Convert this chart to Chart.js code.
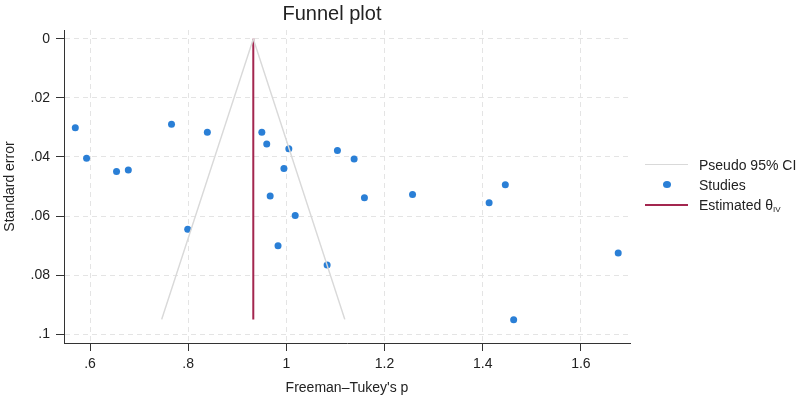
<!DOCTYPE html>
<html>
<head>
<meta charset="utf-8">
<title>Funnel plot</title>
<script src="https://cdn.jsdelivr.net/npm/chart.js@4/dist/chart.umd.min.js"></script>
<style>
  body { margin: 0; background: #fff; }
  #wrap { position: relative; width: 800px; height: 400px; }
  #legend { position: absolute; left: 645px; top: 155px; font-family: "Liberation Sans", Arial, sans-serif; font-size: 14px; color: #222; }
  #legend .row { position: relative; height: 20px; line-height: 20px; white-space: nowrap; }
  #legend .key { position: absolute; left: 0; top: 0; width: 43px; height: 20px; }
  #legend .txt { position: absolute; left: 54px; top: 0; }
  #legend .line { position: absolute; left: 0; width: 43px; top: 9px; height: 0; }
  #legend .dot { position: absolute; left: 18px; top: 6px; width: 8px; height: 7px; border-radius: 50%; background: #2a7fd6; }
  #legend sub { font-size: 8px; vertical-align: -2px; }
</style>
</head>
<body>
<div id="wrap">
  <canvas id="myChart" width="800" height="400"></canvas>
  <div id="legend">
    <div class="row"><span class="key"><span class="line" style="border-top: 1.5px solid #d9d9d9"></span></span><span class="txt">Pseudo 95% CI</span></div>
    <div class="row"><span class="key"><span class="dot"></span></span><span class="txt">Studies</span></div>
    <div class="row"><span class="key"><span class="line" style="border-top: 2px solid #a3264f"></span></span><span class="txt">Estimated θ<sub>IV</sub></span></div>
  </div>
</div>
<script>
// study estimates (Freeman-Tukey p) and their standard errors
var studyP = [0.570, 0.593, 0.654, 0.678, 0.766, 0.839, 0.950, 0.960, 1.005, 0.995, 1.104, 1.138,
              0.967, 1.159, 1.257, 1.446, 1.413, 1.018, 0.799, 0.983, 1.083, 1.676, 1.463];
var studySE = [0.0301, 0.0404, 0.0449, 0.0444, 0.0289, 0.0316, 0.0316, 0.0356, 0.0372, 0.0439, 0.0378, 0.0407,
               0.0532, 0.0538, 0.0527, 0.0494, 0.0555, 0.0598, 0.0645, 0.0701, 0.0766, 0.0725, 0.0951];

// pseudo 95% CI funnel and the pooled estimate
var ciLeftP = [0.9326, 0.746];
var ciRightP = [0.9326, 1.119];
var ciSE = [0, 0.095];
var thetaP = [0.9326, 0.9326];
var thetaSE = [0, 0.095];

var xTicks = [0.6, 0.8, 1, 1.2, 1.4, 1.6];
var yTicks = [0, 0.02, 0.04, 0.06, 0.08, 0.1];

function pairs(xs, ys) {
    var out = [];
    for (var i = 0; i < xs.length; i++) {
        out.push({x: xs[i], y: ys[i]});
    }
    return out;
}

function stataLabel(v) {
    var s = String(Math.round(v * 1000) / 1000);
    return s.replace(/^0\./, '.');
}

Chart.defaults.font.family = '"Liberation Sans", Arial, sans-serif';
Chart.defaults.font.size = 14;
Chart.defaults.color = '#222';

var titlePlugin = {
    id: 'plotTitle',
    afterDraw: function (chart) {
        var ctx = chart.ctx;
        ctx.save();
        ctx.font = '20px "Liberation Sans", Arial, sans-serif';
        ctx.fillStyle = '#222';
        ctx.textAlign = 'center';
        ctx.textBaseline = 'middle';
        ctx.fillText('Funnel plot', 332, 14);
        ctx.restore();
    }
};

var gridOpts = {
    color: '#e4e4e4',
    tickColor: '#333',
    tickBorderDash: [],
    tickLength: 8
};
var borderOpts = {
    display: true,
    color: '#333',
    width: 1,
    dash: [5, 4]
};

var chart = new Chart(document.getElementById('myChart'), {
    type: 'scatter',
    data: {
        datasets: [
            {
                label: 'Pseudo 95% CI',
                type: 'line',
                data: pairs(ciLeftP, ciSE),
                borderColor: '#d9d9d9',
                borderWidth: 1.5,
                pointRadius: 0,
                fill: false
            },
            {
                label: 'Pseudo 95% CI right',
                type: 'line',
                data: pairs(ciRightP, ciSE),
                borderColor: '#d9d9d9',
                borderWidth: 1.5,
                pointRadius: 0,
                fill: false
            },
            {
                label: 'Estimated θIV',
                type: 'line',
                data: pairs(thetaP, thetaSE),
                borderColor: '#a3264f',
                borderWidth: 2,
                pointRadius: 0,
                fill: false
            },
            {
                label: 'Studies',
                data: pairs(studyP, studySE),
                backgroundColor: '#2a7fd6',
                borderWidth: 0,
                pointRadius: 3.5,
                pointHoverRadius: 3.5
            }
        ]
    },
    options: {
        responsive: false,
        animation: false,
        events: [],
        layout: { padding: { top: 30, right: 170, left: 0, bottom: 0 } },
        plugins: {
            legend: { display: false },
            tooltip: { enabled: false }
        },
        scales: {
            x: {
                type: 'linear',
                min: 0.547,
                max: 1.70,
                grid: gridOpts,
                border: borderOpts,
                afterBuildTicks: function (scale) {
                    scale.ticks = xTicks.map(function (v) { return {value: v}; });
                },
                afterFit: function (scale) { scale.height = 57; },
                ticks: {
                    padding: 5,
                    maxRotation: 0,
                    callback: function (v) { return stataLabel(v); }
                },
                title: {
                    display: true,
                    text: 'Freeman–Tukey\'s p',
                    padding: { top: 0, bottom: 3 }
                }
            },
            y: {
                type: 'linear',
                reverse: true,
                min: -0.003,
                max: 0.103,
                grid: gridOpts,
                border: borderOpts,
                afterBuildTicks: function (scale) {
                    scale.ticks = yTicks.map(function (v) { return {value: v}; });
                },
                afterFit: function (scale) { scale.width = 64; },
                ticks: {
                    padding: 6,
                    callback: function (v) { return stataLabel(v); }
                },
                title: {
                    display: true,
                    text: 'Standard error',
                    padding: { top: 2, bottom: 0 }
                }
            }
        }
    },
    plugins: [titlePlugin]
});
</script>
</body>
</html>
